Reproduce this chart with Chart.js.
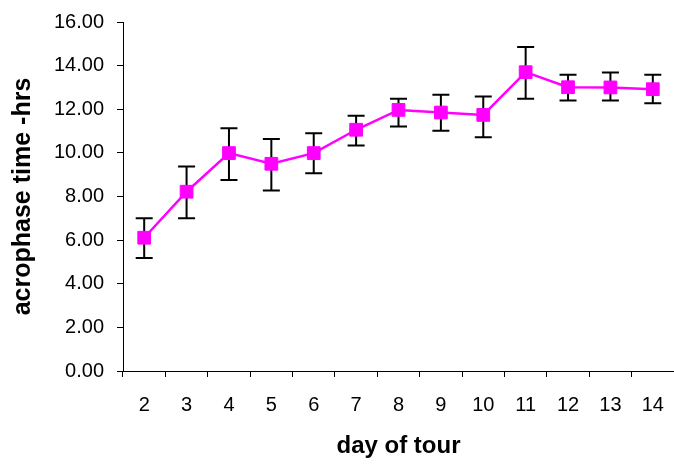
<!DOCTYPE html>
<html>
<head>
<meta charset="utf-8">
<script src="https://cdn.jsdelivr.net/npm/chart.js@4/dist/chart.umd.min.js"></script>
<style>
  html, body { margin: 0; padding: 0; background: #fff; }
  #wrap { width: 674px; height: 464px; }
</style>
</head>
<body>
<div id="wrap"><canvas id="c" width="674" height="464"></canvas></div>
<script>
const days = ['2','3','4','5','6','7','8','9','10','11','12','13','14'];
const acrophase = [6.11, 8.22, 9.99, 9.50, 9.99, 11.06, 11.97, 11.85, 11.74, 13.70, 13.01, 13.00, 12.92];
const errHigh = [7.00, 9.37, 11.13, 10.64, 10.90, 11.70, 12.48, 12.66, 12.58, 14.85, 13.58, 13.69, 13.58];
const errLow = [5.18, 7.00, 8.76, 8.27, 9.07, 10.34, 11.21, 11.02, 10.72, 12.48, 12.40, 12.40, 12.28];
const yTicks = [0, 2, 4, 6, 8, 10, 12, 14, 16];

const FONT = 'Liberation Sans, Arial, sans-serif';

const errorBars = {
  id: 'errorBars',
  beforeDatasetsDraw(chart) {
    const ctx = chart.ctx;
    const meta = chart.getDatasetMeta(0);
    const y = chart.scales.y;
    ctx.save();
    ctx.strokeStyle = '#000';
    ctx.lineWidth = 2;
    meta.data.forEach((pt, i) => {
      const x = pt.x;
      const yt = y.getPixelForValue(errHigh[i]);
      const yb = y.getPixelForValue(errLow[i]);
      ctx.beginPath();
      ctx.moveTo(x, yt); ctx.lineTo(x, yb);
      ctx.moveTo(x - 8.5, yt); ctx.lineTo(x + 8.5, yt);
      ctx.moveTo(x - 8.5, yb); ctx.lineTo(x + 8.5, yb);
      ctx.stroke();
    });
    ctx.restore();
  }
};

new Chart(document.getElementById('c'), {
  type: 'line',
  data: {
    labels: days,
    datasets: [{
      data: acrophase,
      borderColor: '#FF00FF',
      backgroundColor: '#FF00FF',
      borderWidth: 2.5,
      pointStyle: 'rect',
      pointRadius: 9,
      pointBorderWidth: 1,
      pointBorderColor: '#FF00FF',
      pointBackgroundColor: '#FF00FF',
      tension: 0,
      clip: false
    }]
  },
  options: {
    responsive: false,
    animation: false,
    devicePixelRatio: 1,
    layout: { autoPadding: false, padding: { top: 22, right: 0, left: 0, bottom: 0 } },
    plugins: { legend: { display: false }, tooltip: { enabled: false } },
    scales: {
      x: {
        type: 'category',
        offset: true,
        grid: { display: true, drawOnChartArea: false, offset: true, tickLength: 6, color: '#000', tickColor: '#000' },
        border: { display: true, color: '#000', width: 1 },
        ticks: { color: '#000', font: { family: FONT, size: 20 }, padding: 16, maxRotation: 0, autoSkip: false },
        title: { display: true, text: 'day of tour', color: '#000', font: { family: FONT, size: 24, weight: 'bold' }, padding: { top: 0, bottom: 3 } },
        afterFit(s) { s.height = 93; s.paddingLeft = 0; s.paddingRight = 0; }
      },
      y: {
        min: 0, max: 16,
        afterBuildTicks(s) { s.ticks = yTicks.map(v => ({ value: v })); },
        grid: { display: true, drawOnChartArea: false, tickLength: 6, color: '#000', tickColor: '#000' },
        border: { display: true, color: '#000', width: 1 },
        ticks: { color: '#000', font: { family: FONT, size: 20 }, padding: 13, callback: v => Number(v).toFixed(2) },
        title: { display: true, text: 'acrophase time -hrs', color: '#000', font: { family: FONT, size: 25, weight: 'bold' }, padding: { top: 8, bottom: 0 } },
        afterFit(s) { s.width = 123; s.paddingTop = 0; s.paddingBottom = 0; }
      }
    }
  },
  plugins: [errorBars]
});
</script>
</body>
</html>
